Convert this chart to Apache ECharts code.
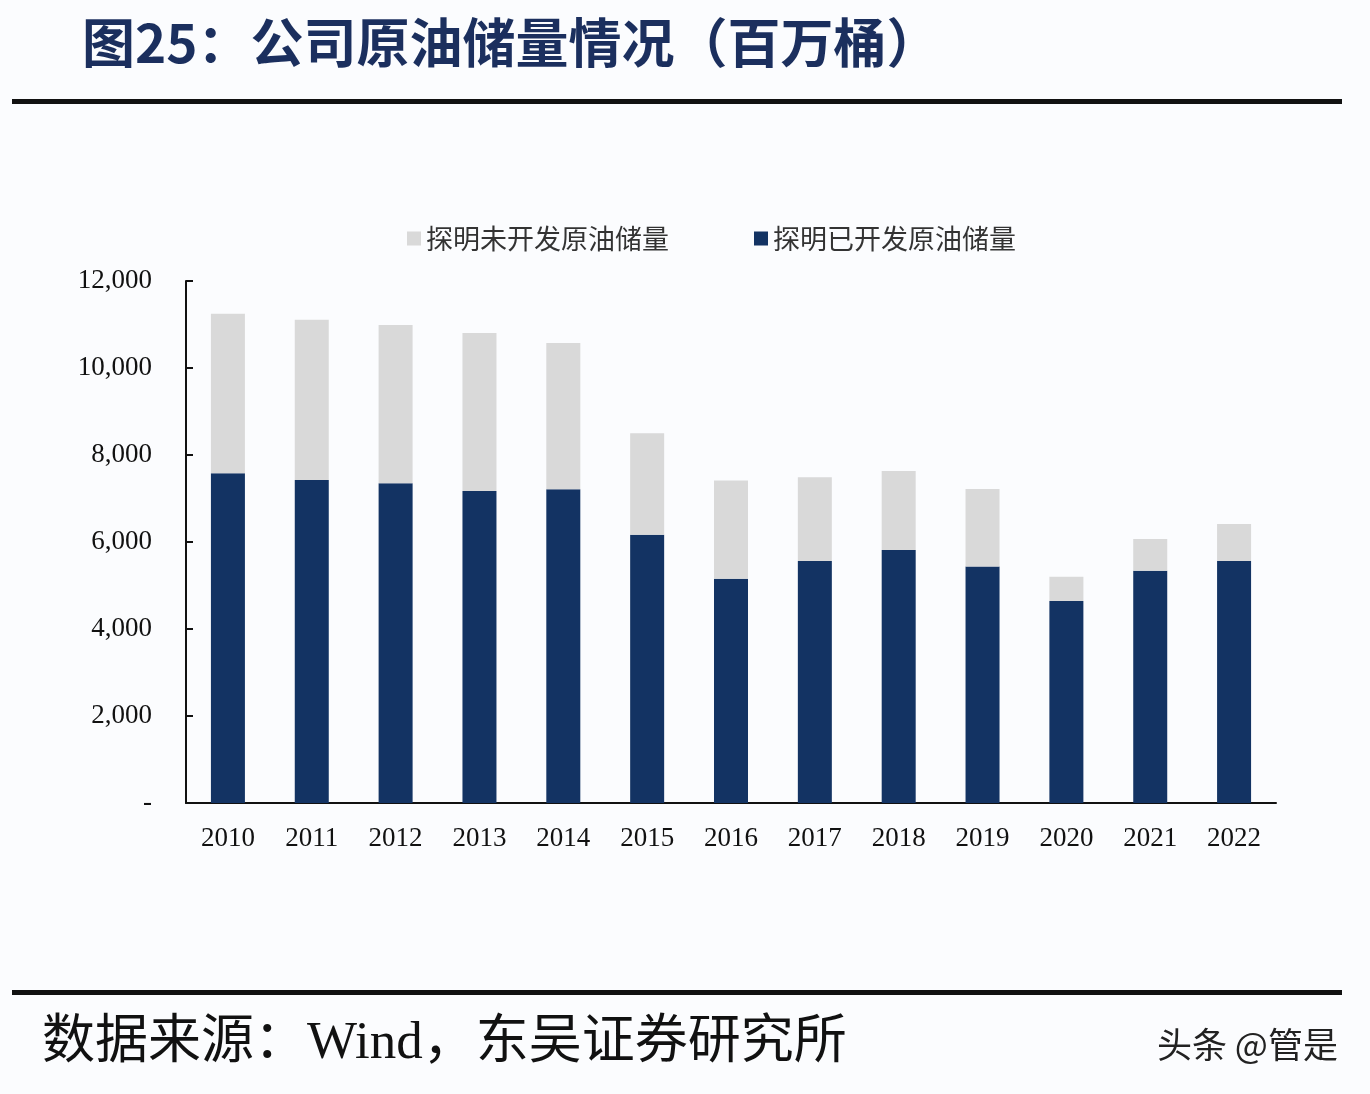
<!DOCTYPE html>
<html><head><meta charset="utf-8">
<script src="https://cdn.jsdelivr.net/npm/echarts@6/dist/echarts.min.js"></script>
<style>html,body{margin:0;padding:0;background:#fbfcfe;}#c{width:1370px;height:1094px;}</style>
</head><body><div id="c"></div>
<script>
const years = ['2010','2011','2012','2013','2014','2015','2016','2017','2018','2019','2020','2021','2022'];
const developed = [7580,7427,7351,7174,7213,6165,5156,5562,5814,5438,4644,5339,5562];
const undeveloped = [3670,3685,3638,3631,3363,2333,2255,1927,1819,1782,558,728,849];
const yTicks = [0,2000,4000,6000,8000,10000,12000];
const seriesNames = ['探明未开发原油储量','探明已开发原油储量'];

const chart = echarts.init(document.getElementById('c'));
chart.setOption({
  backgroundColor: '#fbfcfe',
  animation: false,
  graphic: [
    {type:'text', left:82, top:16, style:{text:'图25：公司原油储量情况（百万桶）', font:'bold 53px "Noto Sans CJK SC"', fill:'#1b2f5e'}},
    {type:'rect', shape:{x:12, y:99, width:1330, height:5}, style:{fill:'#111'}},
    {type:'rect', shape:{x:12, y:990, width:1330, height:5}, style:{fill:'#111'}},
    {type:'text', left:42, top:1018, style:{text:'数据来源：Wind，东吴证券研究所', font:'53px "Liberation Serif","Noto Sans CJK SC"', fill:'#111'}},
    {type:'text', left:1157, top:1027, style:{text:'头条 @管是', font:'35px "Noto Sans CJK SC"', fill:'#222'}}
  ],
  legend: {
    data: seriesNames,
    left: 402, top: 220,
    itemWidth: 14, itemHeight: 14, itemGap: 85,
    icon: 'rect',
    textStyle: {fontFamily:'Noto Sans CJK SC', fontSize:27, color:'#333'}
  },
  grid: {left:186, right:94, top:281, bottom:291, containLabel:false},
  xAxis: {
    type:'category', data: years,
    axisLine:{lineStyle:{color:'#111', width:2}},
    axisTick:{inside:true, length:7, lineStyle:{color:'#111', width:2}},
    axisLabel:{fontFamily:'Liberation Serif', fontSize:27, color:'#111', margin:22}
  },
  yAxis: {
    type:'value', min:0, max:12000, interval:2000,
    splitLine:{show:false},
    axisLine:{show:true, lineStyle:{color:'#111', width:2}},
    axisTick:{show:true, inside:true, length:7, lineStyle:{color:'#111', width:2}},
    axisLabel:{fontFamily:'Liberation Serif', fontSize:27, color:'#111', margin:34,
      formatter: v => v === 0 ? '-' : v.toLocaleString('en-US')}
  },
  series: [
    {name:seriesNames[1], type:'bar', stack:'a', data:developed, barWidth:34, itemStyle:{color:'#133363'}},
    {name:seriesNames[0], type:'bar', stack:'a', data:undeveloped, barWidth:34, itemStyle:{color:'#d9d9d9'}}
  ]
});
</script></body></html>
